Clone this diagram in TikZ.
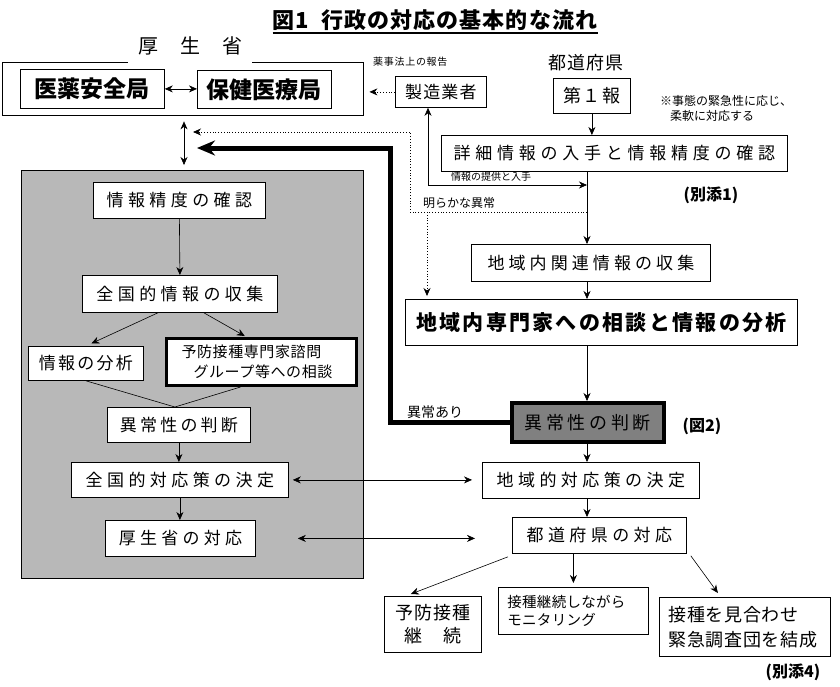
\documentclass[tikz,border=0pt]{standalone}
\usepackage{fontspec}
\setmainfont{Noto Sans CJK JP}
\usetikzlibrary{arrows.meta}
\newcommand\ls[3]{\fontsize{#1}{#3}\selectfont\addfontfeature{LetterSpace=#2}}
\definecolor{hatch}{gray}{0.72}
\definecolor{darkbox}{gray}{0.5}
\tikzset{
  bx/.style={draw, line width=0.8pt, inner sep=0pt, anchor=north west, align=center},
  lbl/.style={inner sep=0pt},
  arr/.style={-{Stealth[length=8pt,width=7pt]}, line width=0.6pt},
  darr/.style={{Stealth[length=8pt,width=7pt]}-{Stealth[length=8pt,width=7pt]}, line width=0.6pt},
  dotl/.style={dotted, line width=0.8pt},
  bigarr/.style={-{Stealth[length=18pt,width=15pt]}, line width=5pt},
  plain/.style={line width=0.6pt}
}
\begin{document}
\begin{tikzpicture}[x=1pt,y=-1pt]
\useasboundingbox[fill=white] (0,0) rectangle (840,686);

% title
\node[lbl, anchor=base, font=\bfseries\ls{22}{5}{24}] (title) at (435,28) {図1\hspace{12pt}行政の対応の基本的な流れ};
\draw[line width=1.3pt] ([yshift=-5pt]title.base west) -- ([yshift=-5pt]title.base east);

% Ministry
\node[inner sep=0pt, anchor=north west, minimum width=361, minimum height=53] (kouseisho) at (2,62) {};
\node[lbl, font=\ls{20}{110}{24}] (klabel) at (190,46) {厚生省};
\draw[line width=0.8pt] ([xshift=-10pt]klabel.west |- kouseisho.north) -- (kouseisho.north west) -- (kouseisho.south west) -- (kouseisho.south east) -- (kouseisho.north east) -- ([xshift=10pt]klabel.east |- kouseisho.north);
\node[bx, font=\bfseries\ls{23}{0}{26}, minimum width=144, minimum height=39] (iyaku) at (20,69) {医薬安全局};
\node[bx, font=\bfseries\ls{23}{0}{26}, minimum width=134, minimum height=38] (hoken) at (197,70) {保健医療局};
\draw[darr] (iyaku.east) -- (iyaku.east -| hoken.west);

% manufacturer
\node[bx, font=\ls{17}{7}{20}, minimum width=91, minimum height=31] (seizo) at (395,76) {製造業者};
\node[lbl, anchor=west, font=\ls{10}{7}{12}] (yakuji) at (373,62) {薬事法上の報告};
\draw[dotl, -{Stealth[length=8pt,width=7pt]}, shorten >=6pt] (seizo.west) -- (seizo.west -| kouseisho.east);

% prefecture
\node[lbl, font=\ls{18}{5}{22}] (tdfk) at (586,63) {都道府県};
\node[bx, font=\ls{18}{10}{22}, minimum width=77, minimum height=35] (dai1) at (553,78) {第１報};
\node[lbl, anchor=north west, align=left, font=\ls{12}{0}{15}] (note) at (660,95) {※事態の緊急性に応じ、\\\hspace{10pt}柔軟に対応する};
\node[bx, font=\ls{17}{28}{20}, minimum width=346, minimum height=36] (shosai) at (441,135) {詳細情報の入手と情報精度の確認};
\node[lbl, font=\bfseries\ls{16}{0}{18}] (b1) at (711,195) {(別添1)};
\draw[arr] (dai1.south) -- (dai1.south |- shosai.north);

% grey region
\node[draw, line width=0.8pt, fill=hatch, anchor=north west, inner sep=0pt, minimum width=342, minimum height=408] (grey) at (21,170) {};
\node[bx, fill=white, font=\ls{17}{26}{20}, minimum width=172, minimum height=36] (seido) at (93,182) {情報精度の確認};
\node[bx, fill=white, font=\ls{17}{26}{20}, minimum width=195, minimum height=37] (zenkoku) at (82,275) {全国的情報の収集};
\node[bx, fill=white, font=\ls{17}{13}{20}, minimum width=115, minimum height=34] (bunseki) at (28,346) {情報の分析};
\node[bx, fill=white, line width=3pt, font=\ls{15}{4}{20}, align=left, text width=160, inner xsep=15pt, minimum height=47] (yobou) at (165,337) {予防接種専門家諮問\\\hspace{12pt}グループ等への相談};
\node[bx, fill=white, font=\ls{17}{19}{20}, minimum width=143, minimum height=35] (ijoL) at (107,407) {異常性の判断};
\node[bx, fill=white, font=\ls{17}{26}{20}, minimum width=217, minimum height=35] (zenkokutaio) at (71,462) {全国的対応策の決定};
\node[bx, fill=white, font=\ls{17}{25}{20}, minimum width=150, minimum height=36] (kouseitaio) at (105,520) {厚生省の対応};

\draw[arr] (seido.south) -- (zenkoku.north);
\draw[arr, shorten >=6pt] ([xshift=-22pt]zenkoku.south) -- (bunseki.north);
\draw[arr, shorten >=2pt] ([xshift=24pt]zenkoku.south) -- ([xshift=-15pt]yobou.north);
\draw[plain] (bunseki.south) -- ([xshift=-4pt]ijoL.north);
\draw[plain] ([xshift=-21pt]yobou.south) -- ([xshift=-4pt]ijoL.north);
\draw[arr] (ijoL.south) -- (ijoL.south |- zenkokutaio.north);
\draw[arr] (zenkokutaio.south) -- (zenkokutaio.south |- kouseitaio.north);

% ministry <-> grey vertical
\coordinate (kv) at (184,140);
\draw[darr, shorten <=6pt, shorten >=5pt] (kv |- kouseisho.south) -- (kv |- grey.north);

% right chain
\coordinate (spine) at (587,300);
\node[bx, font=\ls{17}{24}{20}, minimum width=239, minimum height=37] (kanren) at (471,244) {地域内関連情報の収集};
\node[bx, font=\bfseries\ls{21}{11}{24}, minimum width=392, minimum height=46] (senmon) at (405,299) {地域内専門家への相談と情報の分析};
\node[bx, fill=darkbox, line width=3.5pt, font=\ls{18}{20}{22}, minimum width=152, minimum height=39] (ijoR) at (510,401) {異常性の判断};
\node[lbl, font=\bfseries\ls{16}{0}{18}] (zu2) at (702,426) {(図2)};
\node[bx, font=\ls{17}{26}{20}, minimum width=217, minimum height=36] (chiikitaio) at (482,462) {地域的対応策の決定};
\node[bx, font=\ls{17}{26}{20}, minimum width=174, minimum height=36] (todotaio) at (512,517) {都道府県の対応};

\draw[arr] (spine |- shosai.south) -- (spine |- kanren.north);
\draw[arr] (spine |- kanren.south) -- (spine |- senmon.north);
\draw[arr] (spine |- senmon.south) -- (spine |- ijoR.north);
\draw[arr] (spine |- ijoR.south) -- (spine |- chiikitaio.north);
\draw[arr] (spine |- chiikitaio.south) -- (spine |- todotaio.north);

% info exchange with manufacturer
\coordinate (tk) at (428,185);
\node[lbl, anchor=west, font=\ls{10}{0}{12}] (teikyo) at (451,177) {情報の提供と入手};
\draw[darr] (seizo.south -| tk) -- (tk) -- (spine |- tk);

% obvious anomaly (dotted)
\coordinate (ak) at (410,212);
\coordinate (akup) at (410,132);
\coordinate (ak2) at (427,212);
\node[lbl, anchor=west, font=\ls{12}{0}{14}] (akiraka) at (423,203) {明らかな異常};
\draw[dotl, -{Stealth[length=8pt,width=7pt]}, shorten >=9pt] (spine |- ak) -- (ak) -- (akup) -- (kv |- akup);
\draw[dotl, -{Stealth[length=8pt,width=7pt]}, shorten >=3pt] (ak2) -- (ak2 |- senmon.north);

% anomaly -> ministry thick
\coordinate (tc) at (390,148);
\draw[bigarr, shorten >=13pt] (ijoR.west) -- (ijoR.west -| tc) -- (tc) -- (kv |- tc);
\node[lbl, anchor=west, font=\ls{14}{0}{16}] (ijoari) at (407,412) {異常あり};

% horizontal double arrows
\draw[darr, shorten <=4pt, shorten >=10pt] (zenkokutaio.east) -- (zenkokutaio.east -| chiikitaio.west);
\draw[darr, shorten <=42pt, shorten >=37pt] (kouseitaio.east) -- (kouseitaio.east -| todotaio.west);

% bottom outcomes
\node[bx, font=\ls{18}{7}{23}, minimum width=97, minimum height=56] (yobouK) at (384,596) {予防接種\\継　続};
\node[bx, font=\ls{14.5}{2}{18}, align=left, text width=132, inner xsep=9pt, minimum height=47] (monitor) at (498,587) {接種継続しながら\\モニタリング};
\node[bx, font=\ls{18}{4}{25}, align=left, text width=153, inner xsep=9pt, minimum height=59] (kinkyu) at (659,597) {接種を見合わせ\\緊急調査団を結成};
\node[lbl, font=\bfseries\ls{16}{0}{18}] (b4) at (793,672) {(別添4)};

\draw[arr] ([xshift=-4pt, yshift=-3pt]todotaio.south west) -- ([xshift=-22pt, yshift=2pt]yobouK.north);
\draw[arr, shorten >=4pt] (todotaio.south -| monitor.north) -- (monitor.north);
\draw[arr] ([xshift=4pt, yshift=-2pt]todotaio.south east) -- ([xshift=-27pt, yshift=4pt]kinkyu.north);
\end{tikzpicture}
\end{document}
